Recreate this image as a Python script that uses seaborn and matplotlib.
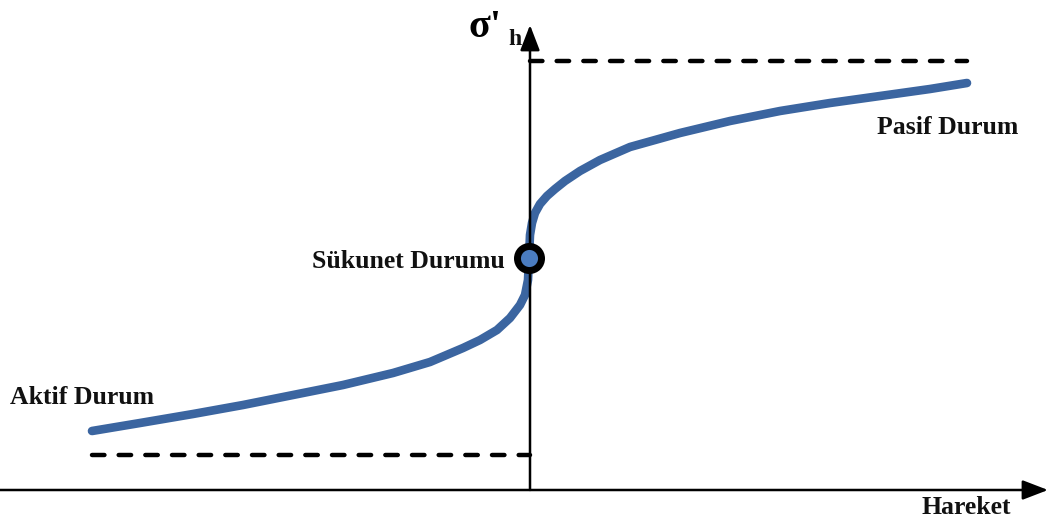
import matplotlib
matplotlib.use("Agg")
import matplotlib.pyplot as plt
import seaborn as sns
import pandas as pd

# Data (origin at the axis crossing; x = Hareket, y = sigma'_h)
hareket = [-438, -390, -337, -287, -237, -187, -137, -100, -67, -50, -33, -20, -10, -5, -2, -1,
           0, 2, 5, 10, 17, 25, 35, 50, 70, 100, 150, 200, 250, 300, 350, 400, 437]
gerilme = [59, 67, 76, 85, 95, 105, 117, 128, 142, 150, 160, 172, 185, 195, 210, 232,
           255, 267, 277, 286, 294, 301, 309, 319, 330, 343, 357, 369, 379, 387, 394, 401, 407]
pasif_sinir_x = [0, 437]
pasif_sinir_y = [429, 429]
aktif_sinir_x = [-438, 0]
aktif_sinir_y = [35, 35]
sukunet_x = [-1]
sukunet_y = [232]
labels = {"aktif": "Aktif Durum", "pasif": "Pasif Durum", "sukunet": "Sükunet Durumu",
          "x": "Hareket", "y": "σ'", "ysub": "h"}

sns.set_theme(style="white")
plt.rcParams['font.family'] = ['Liberation Serif', 'DejaVu Serif']

fig = plt.figure(figsize=(10.53, 5.25), dpi=100)
ax = fig.add_axes([0, 0, 1, 1])
ax.set_xlim(-530, 523)
ax.set_ylim(-35, 490)
ax.axis("off")

curve = pd.DataFrame({"x": hareket, "y": gerilme})
sns.lineplot(data=curve, x="x", y="y", ax=ax, color="#3b65a0", linewidth=6.2,
             sort=False, solid_capstyle="round", solid_joinstyle="round", zorder=3)

for xs, ys in [(pasif_sinir_x, pasif_sinir_y), (aktif_sinir_x, aktif_sinir_y)]:
    ax.plot(xs, ys, color="black", linewidth=3.2, linestyle=(0, (2.8, 3.2)),
            dash_capstyle="round", zorder=2)

# axes arrows
ax.annotate("", xy=(518, 0), xytext=(-532, 0),
            arrowprops=dict(arrowstyle="-|>,head_length=1.3,head_width=0.5",
                            color="black", lw=1.8, shrinkA=0, shrinkB=0), zorder=4)
ax.annotate("", xy=(0, 465), xytext=(0, 0),
            arrowprops=dict(arrowstyle="-|>,head_length=1.3,head_width=0.5",
                            color="black", lw=1.8, shrinkA=0, shrinkB=0), zorder=4)

sns.scatterplot(x=sukunet_x, y=sukunet_y, ax=ax, s=300, color="#4a7cc0",
                edgecolor="black", linewidth=5, zorder=5)

bold = dict(fontsize=18.5, fontweight="bold", color="#111111")
ax.text(-520, 93, labels["aktif"], ha="left", va="center", **bold)
ax.text(347, 362, labels["pasif"], ha="left", va="center", **bold)
ax.text(-25, 228, labels["sukunet"], ha="right", va="center", **bold)
ax.text(436, -18, labels["x"], ha="center", va="center", **bold)
ax.text(-62, 453, labels["y"], ha="left", va="baseline", fontsize=29, fontweight="bold",
        color="black")
ax.text(-22, 445, labels["ysub"], ha="left", va="baseline", fontsize=17, fontweight="bold",
        color="#111111")

fig.savefig("out.png", dpi=100, facecolor="white")
